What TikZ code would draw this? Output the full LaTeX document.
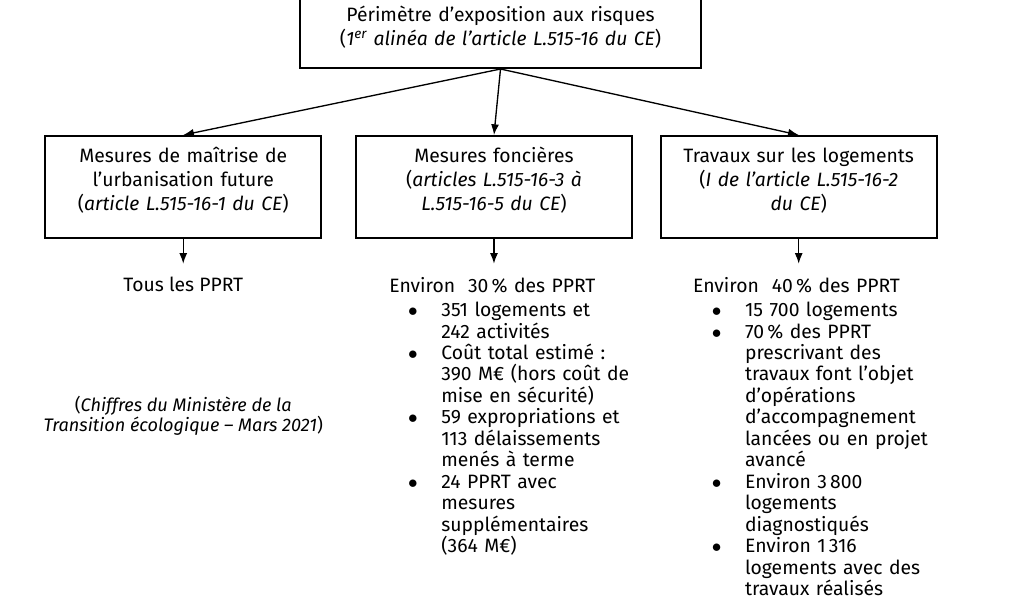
\documentclass[tikz,border=0pt]{standalone}
\usepackage{fontspec}
\setmainfont{Fira Sans}
\usepackage{enumitem}
\usetikzlibrary{arrows.meta,positioning}

\setlist[itemize]{label=$\bullet$, leftmargin=39pt, labelindent=14pt, labelwidth=25pt, labelsep=0pt, align=left, itemindent=0pt, topsep=2pt, partopsep=0pt, parsep=0pt, itemsep=0pt}
\hfuzz=40pt

\begin{document}
\begin{tikzpicture}[
        x=0.75pt, y=-0.75pt,
        node distance=18.75pt,
        font=\fontsize{14.5}{18}\selectfont,
        box/.style={rectangle, draw, line width=1.3pt, text width=199pt, align=center, inner xsep=4pt, inner ysep=0pt, text height=20.25pt, text depth=56.25pt},
        arrow/.style={draw, -{Latex[length=8pt,width=6pt]}, line width=1pt},
        result/.style={inner xsep=0pt, inner ysep=10pt, font=\fontsize{14.5}{16.1}\selectfont},
        list/.style={result, text width=200pt, anchor=north west},
        source/.style={align=center, font=\fontsize{13.6}{15}\selectfont}
    ]
    \useasboundingbox (0,0) rectangle (1020,600);
    \clip (0,0) rectangle (1020,600);

    % Top box
    \node [box, text width=292.75pt, text depth=35.25pt, anchor=south] (perim) at (500.5,69) {P\'erim\`etre d’exposition aux risques\\(\textit{1\textsuperscript{er} alin\'ea de l’article L.515-16 du CE})};

    % Three kinds of measures
    \node [box, below=49.5pt of perim, xshift=-4.9pt] (fonc) {Mesures fonci\`eres\\(\textit{articles L.515-16-3 \`a}\\\textit{L.515-16-5 du CE})};
    \node [box, left=24.75pt of fonc] (urba) {Mesures de ma\^itrise de\\l’urbanisation future\\(\textit{article L.515-16-1 du CE})};
    \node [box, right=20.25pt of fonc] (trav) {Travaux sur les logements\\(\textit{I de l’article L.515-16-2}\\\textit{du CE})};

    % Figures under each box
    \node [result, below=of urba] (tous) {Tous les PPRT};
    \node [list, below=of fonc.south west, anchor=north west, xshift=25.5pt] (foncres) {Environ\ \ 30\,\% des PPRT
        \begin{itemize}
        \item 351 logements et\\242 activit\'es
        \item Co\^ut total estim\'e :\\390 M€ (hors co\^ut de\\mise en s\'ecurit\'e)
        \item 59 expropriations et\\113 d\'elaissements\\men\'es \`a terme
        \item 24 PPRT avec\\mesures\\suppl\'ementaires\\(364 M€)
        \end{itemize}};
    \node [list, below=of trav.south west, anchor=north west, xshift=24.75pt] (travres) {Environ\ \ 40\,\% des PPRT
        \begin{itemize}
        \item 15 700 logements
        \item 70\,\% des PPRT\\prescrivant des\\travaux font l’objet\\d’op\'erations\\d’accompagnement\\lanc\'ees ou en projet\\avanc\'e
        \item Environ 3\,800\\logements\\diagnostiqu\'es
        \item Environ 1\,316\\logements avec des\\travaux r\'ealis\'es
        \end{itemize}};

    % Source
    \node [source, below=64pt of tous] (chiffres) {(\textit{Chiffres du Minist\`ere de la}\\\textit{Transition \'ecologique – Mars 2021})};

    % Arrows
    \path [arrow] (perim.south) -- (urba.north);
    \path [arrow] (perim.south) -- (fonc.north);
    \path [arrow] (perim.south) -- (trav.north);
    \path [arrow] (urba) -- (tous);
    \path [arrow] (fonc.south) -- (fonc.south |- foncres.north);
    \path [arrow] (trav.south) -- (trav.south |- travres.north);

\end{tikzpicture}
\end{document}
